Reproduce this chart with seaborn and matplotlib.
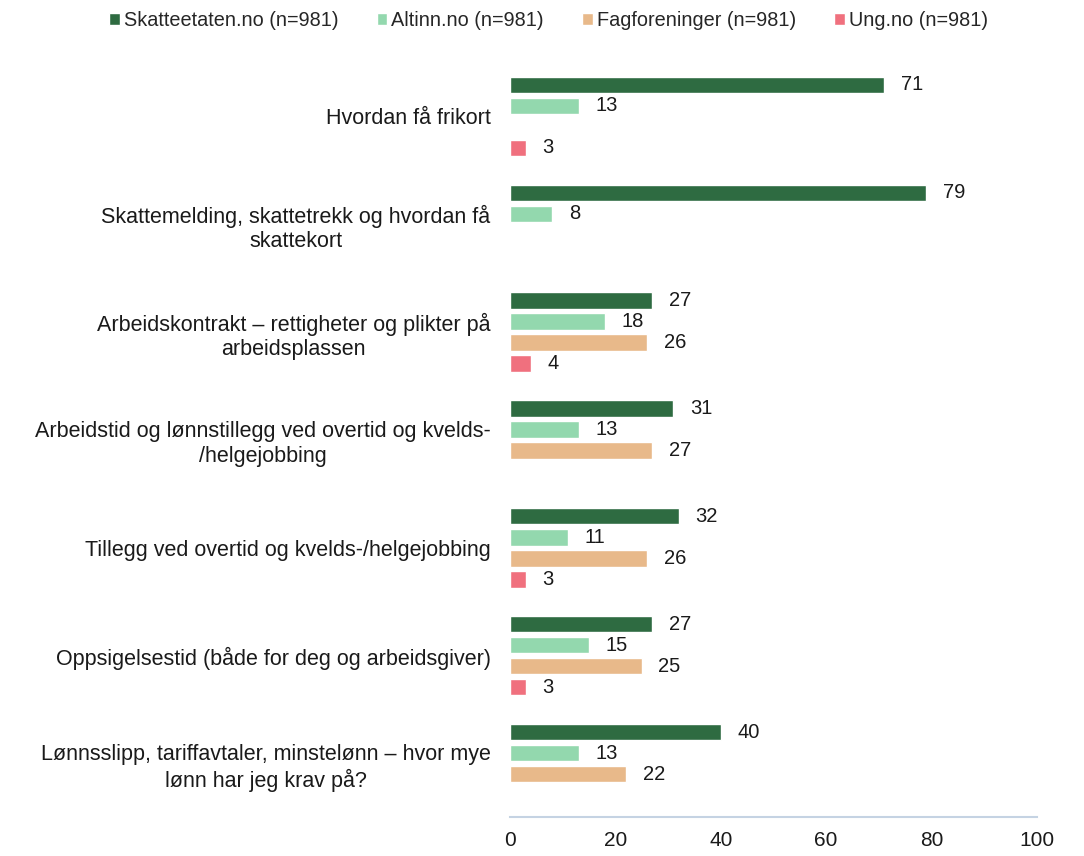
import numpy as np
import pandas as pd
import matplotlib
matplotlib.use("Agg")
import matplotlib.pyplot as plt
import seaborn as sns

categories = [
    "Hvordan få frikort",
    "Skattemelding, skattetrekk og hvordan få\nskattekort",
    "Arbeidskontrakt – rettigheter og plikter på\narbeidsplassen",
    "Arbeidstid og lønnstillegg ved overtid og kvelds-\n/helgejobbing",
    "Tillegg ved overtid og kvelds-/helgejobbing",
    "Oppsigelsestid (både for deg og arbeidsgiver)",
    "Lønnsslipp, tariffavtaler, minstelønn – hvor mye\nlønn har jeg krav på?",
]
series = ["Skatteetaten.no (n=981)", "Altinn.no (n=981)", "Fagforeninger (n=981)", "Ung.no (n=981)"]
skatteetaten = [71, 79, 27, 31, 32, 27, 40]
altinn = [13, 8, 18, 13, 11, 15, 13]
fagforeninger = [np.nan, np.nan, 26, 27, 26, 25, 22]
ungno = [3, np.nan, 4, np.nan, 3, 3, np.nan]
colors = ["#2E6B41", "#93D8AE", "#E8B98A", "#F0707E"]
xticks = [0, 20, 40, 60, 80, 100]

rows = []
for s, vals in zip(series, [skatteetaten, altinn, fagforeninger, ungno]):
    for c, v in zip(categories, vals):
        rows.append({"cat": c, "series": s, "value": v})
df = pd.DataFrame(rows)

sns.set_theme(style="white")
plt.rcParams["font.family"] = ["Liberation Sans", "DejaVu Sans"]

fig = plt.figure(figsize=(10.84, 8.56), dpi=100)
ax = fig.add_axes([0.4705, 0.045, 0.486, 0.882])

sns.barplot(data=df, y="cat", x="value", hue="series", hue_order=series,
            order=categories, palette=colors, orient="h", width=0.78, gap=0.22,
            saturation=1, ax=ax, legend=True, errorbar=None)

for cont in ax.containers:
    labels = ["" if np.isnan(v) else f"{v:.0f}" for v in cont.datavalues]
    ax.bar_label(cont, labels=labels, padding=12, fontsize=14.5, color="#1a1a1a")

ax.set_xlim(0, 100)
ax.set_xticks(xticks)
ax.set_xticklabels([str(t) for t in xticks], fontsize=15, color="#1a1a1a")
ax.tick_params(axis="x", length=0, pad=10)
ax.tick_params(axis="y", length=0, pad=14, labelsize=15.5, labelcolor="#1a1a1a")
for lab in ax.get_yticklabels():
    lab.set_multialignment("center")
ax.set_xlabel("")
ax.set_ylabel("")
for sp in ["top", "right", "left"]:
    ax.spines[sp].set_visible(False)
ax.spines["bottom"].set_color("#C5D3E3")
ax.spines["bottom"].set_linewidth(1.5)

handles, labels = ax.get_legend_handles_labels()
ax.legend_.remove()
fig.legend(handles, labels, loc="upper center", bbox_to_anchor=(0.506, 1.0), ncol=4,
           frameon=False, fontsize=14.3, handlelength=0.55, handleheight=0.55,
           handletextpad=0.2, columnspacing=1.9, borderaxespad=0.15)

fig.savefig("out.png", dpi=100)
